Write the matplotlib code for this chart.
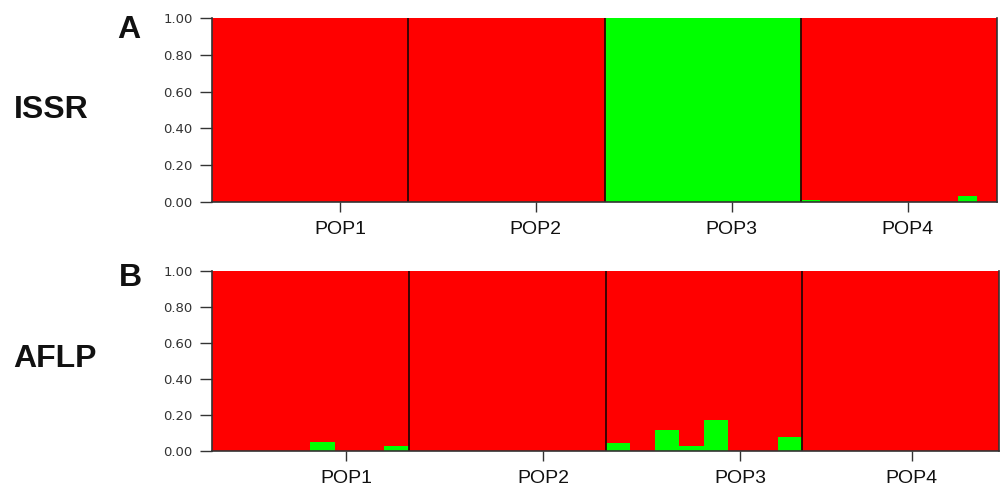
import numpy as np
import matplotlib.pyplot as plt

pops = ["POP1", "POP2", "POP3", "POP4"]
pop_sizes = [8, 8, 8, 10]

# membership in the green cluster, one value per individual
issr_green = [
    [0, 0, 0, 0, 0, 0, 0, 0],
    [0, 0, 0, 0, 0, 0, 0, 0],
    [1, 1, 1, 1, 1, 1, 1, 1],
    [0.01, 0, 0, 0, 0, 0, 0, 0, 0.03, 0],
]
aflp_green = [
    [0, 0, 0, 0, 0.05, 0, 0, 0.03],
    [0, 0, 0, 0, 0, 0, 0, 0],
    [0.045, 0, 0.115, 0.03, 0.175, 0, 0, 0.08],
    [0, 0, 0, 0, 0, 0, 0, 0, 0, 0],
]
issr_ticks = [0.652, 1.649, 2.648, 3.545]
aflp_ticks = [0.681, 1.684, 2.684, 3.556]

RED = "#ff0000"
GREEN = "#00ff00"
W, H = 1007, 488

fig = plt.figure(figsize=(W / 100, H / 100), dpi=100)


def structure_panel(rect, green, ticks):
    ax = fig.add_axes(rect)
    for p, (q, n) in enumerate(zip(green, pop_sizes)):
        q = np.array(q, dtype=float)
        x = p + (np.arange(n) + 0.5) / n
        ax.bar(x, q, width=1 / n, color=GREEN, linewidth=0)
        ax.bar(x, 1 - q, bottom=q, width=1 / n, color=RED, linewidth=0)
    for b in range(1, len(pops)):
        ax.axvline(b, color="#2a0505", lw=1.3)
    ax.set_xlim(0, len(pops))
    ax.set_ylim(0, 1)
    ax.set_yticks(np.arange(0, 1.01, 0.2))
    ax.set_yticklabels([f"{v:.2f}" for v in np.arange(0, 1.01, 0.2)],
                       fontsize=9.5, color="#333333", family="DejaVu Sans")
    ax.set_xticks(ticks)
    ax.set_xticklabels(pops, fontsize=14, family="Liberation Sans", color="#111111")
    ax.tick_params(axis="y", length=9, width=1, color="#333333", pad=5)
    ax.tick_params(axis="x", length=7, width=1, color="#333333", pad=7)
    ax.spines["top"].set_visible(False)
    for s in ("left", "bottom", "right"):
        ax.spines[s].set_color("#333333")
        ax.spines[s].set_linewidth(1.2)
    return ax


structure_panel([212 / W, 1 - 202 / H, 785 / W, 184 / H], issr_green, issr_ticks)
structure_panel([212 / W, 1 - 451 / H, 787 / W, 180 / H], aflp_green, aflp_ticks)

bold = dict(family="Liberation Sans", weight="bold", ha="center", va="center", color="#111111")
fig.text(129 / W, 1 - 30 / H, "A", fontsize=23, **bold)
fig.text(130 / W, 1 - 278 / H, "B", fontsize=23, **bold)
fig.text(51 / W, 1 - 110 / H, "ISSR", fontsize=23, **bold)
fig.text(55 / W, 1 - 359 / H, "AFLP", fontsize=23, **bold)

fig.savefig("out.png", dpi=100)
